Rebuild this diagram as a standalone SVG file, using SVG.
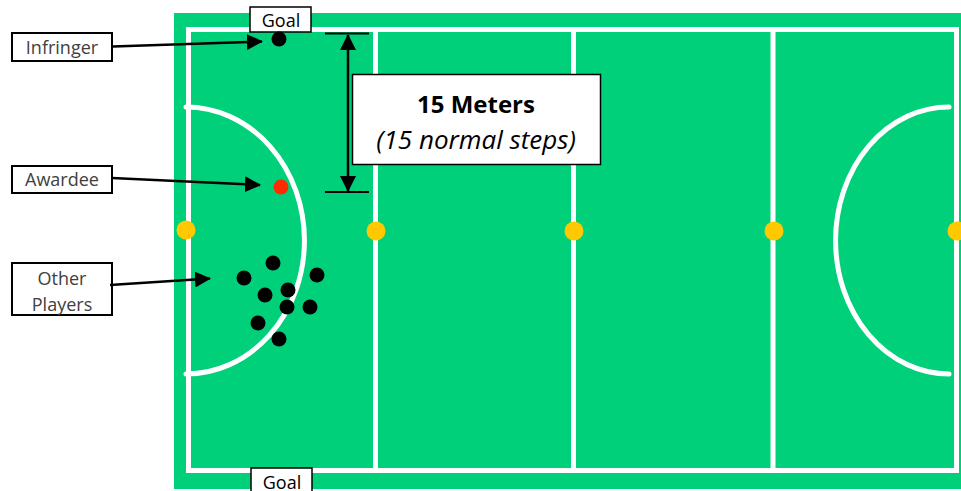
<svg xmlns="http://www.w3.org/2000/svg" width="961" height="491" viewBox="0 0 961 491">
<defs>
<marker id="ah" markerUnits="userSpaceOnUse" markerWidth="16" markerHeight="16" viewBox="0 0 16 16" refX="15" refY="8" orient="auto">
<path d="M0,0 L16,8 L0,16 Z" fill="#000"/>
</marker>
<marker id="dh" markerUnits="userSpaceOnUse" markerWidth="16" markerHeight="16" viewBox="0 0 16 16" refX="15" refY="8" orient="auto-start-reverse">
<path d="M0,0 L16,8 L0,16 Z" fill="#000"/>
</marker>
</defs>
<style>
.line{stroke:#fff;stroke-width:5;fill:none;stroke-linecap:round}
.post{fill:#ffc800}
.pl{fill:#000}
.lbl{fill:#fff;stroke:#000;stroke-width:2}
.lt{font-family:"Open Sans","Liberation Sans",sans-serif;font-size:18px;fill:#404040;text-anchor:middle}
.gt{font-family:"Open Sans","Liberation Sans",sans-serif;font-size:18px;fill:#000;text-anchor:middle}
.arr{stroke:#000;stroke-width:2.5;fill:none;marker-end:url(#ah)}
</style>
<g id="field">
<rect x="174" y="13" width="787" height="476" fill="#00d07a"/>
<rect x="188.5" y="29.5" width="768" height="441" class="line" stroke-linecap="butt"/>
<line x1="375.5" y1="30" x2="375.5" y2="470" class="line"/>
<line x1="573.5" y1="30" x2="573.5" y2="470" class="line"/>
<line x1="773" y1="30" x2="773" y2="470" class="line"/>
<path d="M186,107 A118,133 0 0 1 186,374" class="line"/>
<path d="M949,107 A113,133 0 0 0 949,374" class="line"/>
<circle cx="186" cy="230" r="9.5" class="post"/>
<circle cx="376" cy="231" r="9.5" class="post"/>
<circle cx="574" cy="231" r="9.5" class="post"/>
<circle cx="774" cy="231" r="9.5" class="post"/>
<circle cx="957" cy="231" r="9.5" class="post"/>
</g>
<g id="goal-top">
<rect x="250" y="7" width="61" height="25" fill="#fff" stroke="#000" stroke-width="1.5"/>
<text x="281" y="27" class="gt">Goal</text>
</g>
<g id="goal-bottom">
<rect x="251" y="468" width="61" height="30" fill="#fff" stroke="#000" stroke-width="1.5"/>
<text x="282" y="489" class="gt">Goal</text>
</g>
<g id="players">
<circle cx="279" cy="39" r="7.5" class="pl"/>
<circle cx="281" cy="187" r="7.5" fill="#ff2a00"/>
<circle cx="273" cy="263" r="7.5" class="pl"/>
<circle cx="244" cy="278" r="7.5" class="pl"/>
<circle cx="317" cy="275" r="7.5" class="pl"/>
<circle cx="265" cy="295" r="7.5" class="pl"/>
<circle cx="288" cy="290" r="7.5" class="pl"/>
<circle cx="287" cy="307" r="7.5" class="pl"/>
<circle cx="310" cy="307" r="7.5" class="pl"/>
<circle cx="258" cy="323" r="7.5" class="pl"/>
<circle cx="279" cy="339" r="7.5" class="pl"/>
</g>
<g id="infringer">
<rect x="12" y="33" width="100" height="28" class="lbl"/>
<text x="62" y="54" class="lt">Infringer</text>
</g>
<g id="awardee">
<rect x="12" y="166" width="100" height="27" class="lbl"/>
<text x="62" y="186" class="lt">Awardee</text>
</g>
<g id="other-players">
<rect x="12" y="263" width="100" height="52" class="lbl"/>
<text x="62" y="285" class="lt">Other</text>
<text x="62" y="311" class="lt">Players</text>
</g>
<g id="distance">
<line x1="325" y1="33.5" x2="369" y2="33.5" stroke="#000" stroke-width="2"/>
<line x1="325" y1="192" x2="369" y2="192" stroke="#000" stroke-width="2"/>
<line x1="348" y1="35" x2="348" y2="191" stroke="#000" stroke-width="2.5" marker-start="url(#dh)" marker-end="url(#dh)"/>
<rect x="352.5" y="74.5" width="248" height="90" fill="#fff" stroke="#000" stroke-width="1.5"/>
<text x="476" y="113" font-family="'Open Sans','Liberation Sans',sans-serif" font-size="24" font-weight="bold" text-anchor="middle" fill="#000">15 Meters</text>
<text x="476" y="149" font-family="'Open Sans','Liberation Sans',sans-serif" font-size="26" font-style="italic" text-anchor="middle" fill="#000">(15 normal steps)</text>
</g>
<g id="connectors">
<line x1="113" y1="46.5" x2="262" y2="41.5" class="arr"/>
<line x1="112" y1="178" x2="260" y2="185" class="arr"/>
<line x1="110" y1="285" x2="210" y2="278.5" class="arr"/>
</g>
</svg>
